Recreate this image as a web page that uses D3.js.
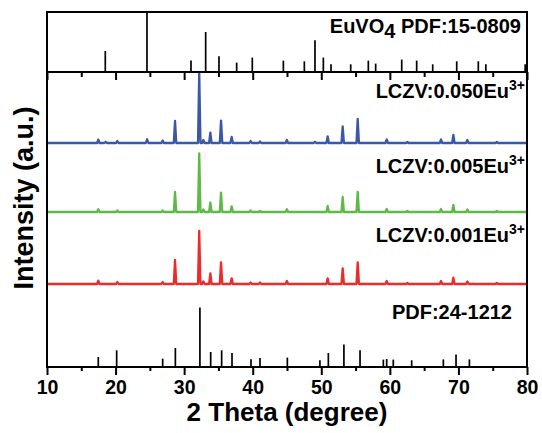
<!DOCTYPE html>
<html><head><meta charset="utf-8">
<script src="https://cdn.jsdelivr.net/npm/d3@7"></script>
<style>body{margin:0;background:#fff}svg{display:block}text{font-family:"Liberation Sans",Arial,sans-serif;font-weight:bold;fill:#000}</style>
</head><body><svg id="c" width="542" height="433"></svg>
<script>
// ---- data ----
const xTicks = [10,20,30,40,50,60,70,80];
const xMinorTicks = [15,25,35,45,55,65,75];
const peakPos   = [17.48,18.55,20.25,24.6,26.87,28.67,32.2,32.8,33.82,35.38,36.93,39.7,41.06,44.98,49.08,50.93,53.12,55.31,59.54,62.55,67.46,69.26,71.3,75.6];
const blue050   = [3.4,1.2,2,3.7,2.5,22,70,3,10.4,22.4,6,2,1.5,3,1.2,6.5,16.5,24,3.5,1,3.5,8,3,1];
const green005  = [2.7,0,1.5,0,1.5,20,58.7,2.5,9.4,19.4,5.7,1.5,1,2.7,0,6,15,20,3,1,3,7,2.5,1];
const red001    = [3.3,0,2,0,2,24,53,2.5,10.7,21.7,5.7,1.5,1.5,3,0,5.7,15.7,21.7,3,1,3,6.3,2.5,1];
const seriesNames = ["LCZV:0.050Eu","LCZV:0.005Eu","LCZV:0.001Eu"];
const seriesOffsets = [224,155,83];
const pdf24Pos = [17.48,20.16,26.87,28.72,32.3,33.87,35.47,36.98,39.75,41.06,45.05,49.8,51.03,53.3,55.65,59.05,59.54,60.5,63.18,67.8,69.65,71.6];
const pdf24Int = [10,16.7,8.3,19,59.4,15,16.7,14,7.7,9,9.4,6.7,14,22.4,16.7,7.4,8,7.4,6.7,7.6,12.4,7.6];
const eu15Pos = [18.5,24.58,31.0,33.14,35.08,37.66,39.94,44.47,47.53,49.08,50.3,51.42,54.29,56.86,57.93,61.73,63.91,66.25,69.75,72.9,74.0,79.73];
const eu15Int = [21,60,11.4,40,15.7,9.4,14.4,11.4,10.7,31.7,14.4,7.7,7.7,11.4,8.4,12.4,11.4,7.7,10.7,10.7,7.7,7.7];

// ---- layout ----
const L = 47, R = 527, topT = 12, topB = 72, mainB = 367;
const svg = d3.select("#c");
const x = d3.scaleLinear().domain([10,80]).range([L,R]);
const yMain = d3.scaleLinear().domain([0,295]).range([mainB, topB]);
const yTop = d3.scaleLinear().domain([0,60]).range([topB, topT]);
const colors = ["#3b57a7","#5dba47","#ec2c2c"];
const hw = 0.18;

// curves
const line = d3.line().x(d=>x(d[0])).y(d=>yMain(d[1]));
[blue050, green005, red001].forEach((h,i)=>{
  const off = seriesOffsets[i];
  const pts = [[10,off]];
  peakPos.forEach((p,j)=>{
    if(h[j]>0){ pts.push([p-hw,off],[p,off+h[j]],[p+hw,off]); }
  });
  pts.push([80,off]);
  svg.append("path").attr("d",line(pts)).attr("fill","none")
    .attr("stroke",colors[i]).attr("stroke-width",2.3).attr("stroke-linejoin","round");
});

// PDF 24-1212 sticks
svg.append("g").selectAll("line").data(pdf24Pos).join("line")
  .attr("x1",d=>x(d)).attr("x2",d=>x(d))
  .attr("y1",yMain(0)).attr("y2",(d,i)=>yMain(pdf24Int[i]))
  .attr("stroke","#000").attr("stroke-width",1.7);
// EuVO4 sticks
svg.append("g").selectAll("line").data(eu15Pos).join("line")
  .attr("x1",d=>x(d)).attr("x2",d=>x(d))
  .attr("y1",yTop(0)).attr("y2",(d,i)=>yTop(eu15Int[i]))
  .attr("stroke","#000").attr("stroke-width",1.7);

// axes
const gB = svg.append("g").attr("transform",`translate(0,${mainB})`)
  .call(d3.axisBottom(x).tickValues(xTicks).tickSize(8).tickFormat(d3.format("d")));
const gBm = svg.append("g").attr("transform",`translate(0,${mainB})`)
  .call(d3.axisBottom(x).tickValues(xMinorTicks).tickSize(4).tickFormat(""));
const gT = svg.append("g").attr("transform",`translate(0,${topB})`)
  .call(d3.axisBottom(x).tickValues(xTicks).tickSize(8).tickFormat(""));
const gTm = svg.append("g").attr("transform",`translate(0,${topB})`)
  .call(d3.axisBottom(x).tickValues(xMinorTicks).tickSize(5).tickFormat(""));
[gB,gBm,gT,gTm].forEach(g=>{
  g.select(".domain").remove();
  g.selectAll(".tick line").attr("stroke","#000").attr("stroke-width",2);
});
gB.selectAll(".tick text").attr("y",13).attr("dy","0.71em")
  .style("font-size","19.5px").style("font-family","'Liberation Sans',Arial,sans-serif").style("font-weight","bold").attr("fill","#000");

// frames
svg.append("rect").attr("x",L).attr("y",topT).attr("width",R-L).attr("height",mainB-topT)
  .attr("fill","none").attr("stroke","#000").attr("stroke-width",2);
svg.append("line").attr("x1",L).attr("x2",R).attr("y1",topB).attr("y2",topB)
  .attr("stroke","#000").attr("stroke-width",2);

// labels
const t1 = svg.append("text").attr("x",521).attr("y",33).attr("text-anchor","end").style("font-size","20px");
t1.append("tspan").text("EuVO");
t1.append("tspan").attr("dy",5).text("4");
t1.append("tspan").attr("dy",-5).text(" PDF:15-0809");

const labelY = [98,173,242];
seriesNames.forEach((s,i)=>{
  const t = svg.append("text").attr("x",525).attr("y",labelY[i]).attr("text-anchor","end").style("font-size","20px");
  t.append("tspan").text(s);
  t.append("tspan").attr("dy",-8).style("font-size","14px").text("3+");
});
svg.append("text").attr("x",512).attr("y",319).attr("text-anchor","end").style("font-size","20px").text("PDF:24-1212");

svg.append("text").attr("x",(L+R)/2).attr("y",421).attr("text-anchor","middle").style("font-size","26px").text("2 Theta (degree)");
svg.append("text").attr("transform","translate(33,198) rotate(-90)").attr("text-anchor","middle").style("font-size","27px").text("Intensity (a.u.)");
</script></body></html>
